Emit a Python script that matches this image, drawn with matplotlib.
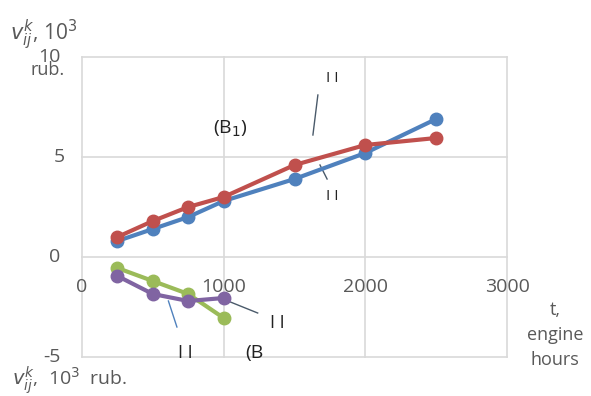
import matplotlib.pyplot as plt
import numpy as np

plt.rcParams['font.family'] = ['Open Sans', 'DejaVu Sans']

# upper pair (B1)
t_up = [250, 500, 750, 1000, 1500, 2000, 2500]
blue_vals = [0.8, 1.4, 2.0, 2.8, 3.9, 5.2, 6.9]
red_vals = [1.0, 1.8, 2.5, 3.0, 4.6, 5.6, 5.95]

# lower pair (B)
t_low = [250, 500, 750, 1000]
green_vals = [-0.55, -1.2, -1.85, -3.05]
purple_vals = [-0.95, -1.85, -2.2, -2.05]

x_ticks = [0, 1000, 2000, 3000]
y_ticks = [-5, 0, 5, 10]

gray = '#595959'
grid_c = '#d9d9d9'

fig = plt.figure(figsize=(5.91, 3.96), dpi=100)
ax = fig.add_axes([82 / 591, 1 - 357 / 396, 425 / 591, 300 / 396])
ax.set_xlim(0, 3000)
ax.set_ylim(-5, 10)

for xv in x_ticks:
    ax.axvline(xv, color=grid_c, lw=1.2, zorder=0, clip_on=False)
for yv in y_ticks:
    ax.axhline(yv, color=grid_c, lw=1.2, zorder=0, clip_on=False)
for s in ax.spines.values():
    s.set_visible(False)

ax.set_xticks([])
ax.set_yticks([])
for xv in x_ticks:
    ax.text(xv, 0, str(xv), ha='center', va='center', fontsize=14, color=gray,
            transform=ax.transData).set_position((xv, -1.5))
for yv in y_ticks:
    ax.text(-150 if yv != 5 else -120, yv, str(yv), ha='right', va='center',
            fontsize=14, color=gray)

kw = dict(lw=3, marker='o', ms=9, zorder=3)
ax.plot(t_up, blue_vals, color='#4f81bd', **kw)
ax.plot(t_up, red_vals, color='#c0504d', **kw)
ax.plot(t_low, green_vals, color='#9bbb59', **kw)
ax.plot(t_low, purple_vals, color='#8064a2', **kw)

# callout labels
ax.text(1050, 6.4, '(B$_1$)', fontsize=14, color='#222222', ha='center', va='center')
ax.text(1770, 8.95, 'I I', fontsize=11, color='#222222', ha='center', va='center')
ax.plot([1630, 1665], [6.1, 8.1], color='#4a5a6a', lw=1)
ax.text(1770, 3.0, 'I I', fontsize=11, color='#222222', ha='center', va='center')
ax.plot([1680, 1730], [4.6, 3.9], color='#4a5a6a', lw=1)

ax.text(730, -4.8, 'I I', fontsize=13, color='#222222', ha='center', va='center')
ax.plot([610, 670], [-2.2, -3.5], color='#4f81bd', lw=1)
ax.text(1380, -3.3, 'I I', fontsize=13, color='#222222', ha='center', va='center')
ax.plot([1030, 1240], [-2.2, -2.8], color='#4a5a6a', lw=1)
ax.text(1150, -4.8, '(B', fontsize=14, color='#222222', ha='left', va='center')

# axis titles
fig.text(10 / 591, 1 - 35 / 396, r'$v^{k}_{ij}$, 10$^3$', fontsize=15, color=gray,
         ha='left', va='center', math_fontfamily='dejavusans')
fig.text(30 / 591, 1 - 70 / 396, 'rub.', fontsize=13, color=gray, ha='left', va='center')
fig.text(12 / 591, 1 - 380 / 396, r'$v^{k}_{ij}$,  10$^3$  rub.', fontsize=14, color=gray,
         ha='left', va='center', math_fontfamily='dejavusans')
fig.text(555 / 591, 1 - 335 / 396, 't,\nengine\nhours', fontsize=13, color=gray,
         ha='center', va='center', linespacing=1.5)

fig.savefig('out.png', dpi=100)
